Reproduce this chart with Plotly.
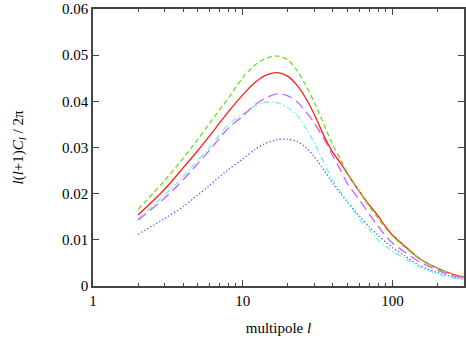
import plotly.graph_objects as go

multipole = [2, 3, 4, 5, 6, 8, 10, 12, 14, 17, 20, 23, 26, 30, 35, 40, 45, 50, 60, 70, 80, 90, 100, 120, 150, 200, 250, 300]

green_dash = [0.0166, 0.0228, 0.0277, 0.0317, 0.0352, 0.0407, 0.0451, 0.0478, 0.0492, 0.0498, 0.0490, 0.0467, 0.0438, 0.0398,
              0.0348, 0.0305, 0.0274, 0.0245, 0.0205, 0.0172, 0.0147, 0.0125, 0.0108, 0.0085, 0.0060, 0.0038, 0.0026, 0.0020]
red_solid = [0.0154, 0.0209, 0.0256, 0.0293, 0.0325, 0.0377, 0.0414, 0.0440, 0.0455, 0.0462, 0.0454, 0.0435, 0.0410, 0.0372,
             0.0324, 0.0289, 0.0266, 0.0243, 0.0205, 0.0175, 0.0152, 0.0128, 0.0110, 0.0087, 0.0060, 0.0038, 0.0026, 0.0019]
purple_longdash = [0.0143, 0.0190, 0.0230, 0.0265, 0.0294, 0.0342, 0.0368, 0.0392, 0.0406, 0.0416, 0.0412, 0.0399, 0.0380, 0.0353,
                   0.0318, 0.0281, 0.0251, 0.0222, 0.0187, 0.0155, 0.0130, 0.0108, 0.0093, 0.0074, 0.0053, 0.0034, 0.0023, 0.0017]
cyan_dashdot = [0.0145, 0.0197, 0.0237, 0.0272, 0.0300, 0.0350, 0.0372, 0.0390, 0.0398, 0.0397, 0.0386, 0.0370, 0.0345, 0.0310,
                0.0266, 0.0228, 0.0204, 0.0183, 0.0145, 0.0122, 0.0100, 0.0086, 0.0075, 0.0060, 0.0042, 0.0026, 0.0018, 0.0013]
blue_dot = [0.0112, 0.0146, 0.0172, 0.0197, 0.0218, 0.0252, 0.0275, 0.0295, 0.0308, 0.0317, 0.0318, 0.0313, 0.0302, 0.0280,
            0.0250, 0.0222, 0.0200, 0.0182, 0.0152, 0.0128, 0.0110, 0.0095, 0.0083, 0.0066, 0.0045, 0.0029, 0.0020, 0.0015]

x_tick_vals = [1, 10, 100]
x_tick_text = ["1", "10", "100"]
y_tick_vals = [0, 0.01, 0.02, 0.03, 0.04, 0.05, 0.06]
y_tick_text = ["0", "0.01", "0.02", "0.03", "0.04", "0.05", "0.06"]

series = [
    (blue_dot, "#4062ff", "1.3px,2.2px"),
    (cyan_dashdot, "#74f2dc", "6px,2.5px,1.3px,2.5px"),
    (purple_longdash, "#c462ff", "10px,5px"),
    (red_solid, "#ff1c1c", "solid"),
    (green_dash, "#6ede1c", "5px,3px"),
]

fig = go.Figure()
for ys, color, dash in series:
    fig.add_trace(go.Scatter(x=multipole, y=ys, mode="lines",
                             line=dict(color=color, width=1.3, dash=dash, shape="spline", smoothing=0.8),
                             showlegend=False))

font = dict(family="Liberation Serif", size=15, color="#000")
axis_common = dict(showline=True, linecolor="#444", linewidth=1.5, mirror="ticks",
                   ticks="inside", tickcolor="#444", ticklen=6, tickwidth=1,
                   showgrid=False, zeroline=False, tickfont=font, automargin=False)

fig.update_layout(
    width=466, height=339,
    margin=dict(l=93, r=2, t=9, b=53, autoexpand=False),
    paper_bgcolor="white", plot_bgcolor="white",
    font=font,
    xaxis=dict(type="log", range=[0, 2.4771], tickvals=x_tick_vals, ticktext=x_tick_text,
               minor=dict(ticks="inside", ticklen=3, tickcolor="#444", dtick="D1", showgrid=False),
               title=dict(text="multipole <i>l</i>", font=font, standoff=15),
               **axis_common),
    yaxis=dict(range=[0, 0.06], tickvals=y_tick_vals, ticktext=y_tick_text,
               title=dict(text="<i>l</i>(<i>l</i>+1)<i>C<sub>l</sub></i> / 2π", font=font, standoff=35),
               **axis_common),
)

fig.write_html("out.html", config={"displayModeBar": False},
               post_script="document.body.style.margin='0';document.body.style.overflow='hidden';")
